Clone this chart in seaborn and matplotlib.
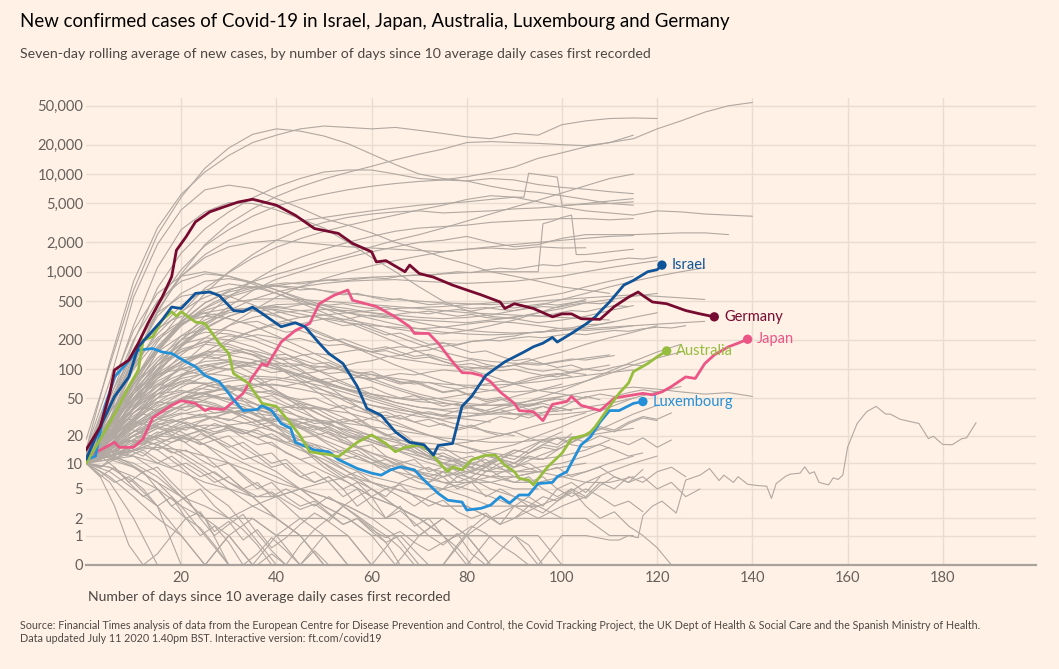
import matplotlib
matplotlib.use("Agg")
import matplotlib.pyplot as plt
import numpy as np
import pandas as pd
import seaborn as sns
from matplotlib.ticker import NullLocator

# ---- data ----
# grey countries: seven-day average sampled every 5 days from day 0
grey_step = 5
grey_lines = [
    [14, 120, 800, 2800, 6200, 10500, 15500, 21000, 25000, 29000, 31000, 30000, 29000, 30000, 28000, 26000, 24000, 23000, 26000, 25000, 32000, 35000, 37000, 37500, 37000],
    [11, 35, 140, 480, 1050, 1850, 2700, 3700, 4700, 5500, 6200, 6900, 7500, 8000, 8400, 8700, 9400, 10400, 11800, 14500, 16500, 19000, 21000, 23000, 29000, 35000, 43000, 50000, 54000],
    [18, 110, 650, 2400, 5800, 11500, 18500, 25500, 29000, 27500, 24500, 20500, 16000, 12500, 10000, 9000, 8500, 9000, 8700, 7800, 7300, 7000, 6600, 6300],
    [10, 28, 110, 380, 950, 1900, 3100, 4400, 5900, 7400, 8900, 10400, 12000, 14000, 16000, 18000, 21000, 21500, 21000, 20600, 20000, 19500, 21000, 25000],
    [14, 75, 550, 1900, 4300, 6900, 7700, 7100, 5600, 4500, 3500, 3000, 2500, 2000, 1700, 1400, 1200, 1000, 900, 800, 700, 650, 600],
    [12, 55, 280, 1100, 2700, 4100, 5100, 5000, 4300, 3500, 2800, 2000, 1400, 1000, 700, 500, 400, 350, 330, 300, 320, 350, 400, 450],
    [10, 38, 190, 680, 1550, 2750, 4100, 5700, 7400, 9000, 10500, 11000, 11000, 10000, 9000, 8700, 8500, 7500, 6800, 6500, 6000, 5500, 5000, 4800],
    [10, 24, 75, 190, 380, 680, 980, 1380, 1780, 2180, 2580, 2980, 3380, 3800, 4300, 4800, 5500, 6000, 5800, 5200, 4600, 4200, 4000, 3800, 4200, 4100, 3900, 3800, 3700],
    [10, 19, 48, 95, 175, 290, 440, 640, 840, 1000, 1200, 1400, 1600, 1800, 2000, 2100, 2300, 2000, 1800, 1900, 2200, 2400, 2400, 2400, 2450, 2500, 2500, 2400],
    [10, 28, 75, 170, 310, 480, 640, 790, 940, 1100, 1300, 1500, 1800, 2100, 2400, 2800, 3300, 3900, 4600, 5400, 6400, 7600, 9000, 10000],
    [10, 22, 60, 150, 320, 600, 1000, 1500, 2100, 2700, 3200, 3600, 3900, 4100, 4200, 4000, 4100, 4200, 4400, 4500, 4700, 5000, 5300, 5600],
    [10, 20, 45, 100, 200, 350, 550, 800, 1100, 1400, 1700, 2000, 2300, 2600, 2800, 2900, 3000, 3200, 3300, 3400, 3500, 3500, 3400, 3500],
    [10, 16, 30, 60, 110, 180, 280, 400, 550, 700, 850, 1000, 1150, 1300, 1450, 1600, 1700, 1800, 1900, 2000, 2100, 2200, 2300, 2350],
    [12, 40, 150, 450, 900, 1400, 1800, 2000, 2100, 2000, 1900, 1800, 1750, 1700, 1650, 1600, 1700, 1750, 1700, 1800, 1750, 1760],
    [10, 30, 100, 250, 450, 650, 750, 700, 600, 500, 420, 380, 350, 330, 320, 310, 300, 320, 340, 380, 420, 480, 520, 560, 600],
    [11, 25, 70, 160, 300, 480, 620, 700, 720, 690, 640, 600, 560, 520, 500, 480, 470, 460, 480, 500, 520, 540, 560, 580, 560, 540, 520],
    [10, 18, 40, 90, 170, 280, 400, 520, 620, 700, 760, 800, 820, 830, 800, 780, 760, 780, 800, 850, 900, 1000, 1100, 1200, 1300],
    [13, 60, 250, 600, 900, 1000, 900, 750, 600, 480, 380, 300, 240, 190, 150, 120, 100, 85, 70, 60, 55, 50],
    [10, 35, 130, 350, 600, 800, 850, 780, 650, 520, 420, 340, 270, 220, 180, 150, 130, 120, 115, 110, 120, 130, 140],
    [10, 20, 50, 110, 200, 300, 380, 420, 430, 400, 360, 320, 290, 260, 240, 230, 250, 280, 320, 380, 450, 520],
    [10, 15, 28, 50, 85, 130, 190, 250, 300, 340, 360, 380, 400, 420, 430, 440, 460, 480, 500, 550, 600, 700, 800, 900],
    [12, 45, 160, 380, 560, 620, 560, 460, 360, 280, 220, 180, 150, 130, 120, 110, 105, 100, 110, 130, 150, 180, 210, 240, 280],
    [10, 22, 55, 120, 220, 320, 400, 430, 410, 370, 330, 300, 280, 270, 260, 270, 290, 310, 300, 280, 260, 250, 260, 280],
    [11, 28, 75, 170, 290, 380, 420, 400, 350, 290, 230, 180, 140, 110, 90, 75, 65, 60, 58, 60, 65, 75, 90, 110, 130, 150],
    [10, 24, 70, 160, 280, 400, 480, 520, 530, 520, 500, 480, 460, 440, 420, 400, 380, 370, 360, 350, 340, 330, 320],
    [10, 18, 40, 80, 140, 210, 280, 340, 380, 400, 410, 400, 380, 360, 340, 330, 340, 360, 400, 450, 520, 600, 700, 800, 900, 1000, 1100],
    [12, 50, 200, 500, 800, 950, 900, 780, 650, 540, 450, 380, 330, 290, 260, 240, 230, 225, 230, 240, 250, 260, 270, 280, 290, 300, 310],
    [10, 20, 45, 95, 170, 260, 350, 420, 460, 470, 450, 420, 380, 340, 300, 270, 250, 240, 235, 240, 250, 270, 300, 340, 380],
    [10, 20, 45, 80, 120, 150, 160, 140, 110, 80, 60, 45, 35, 28, 22, 18, 15, 13, 12, 11, 12, 14, 18],
    [10, 16, 30, 55, 85, 110, 120, 115, 100, 85, 70, 60, 55, 50, 48, 50, 55, 60, 70, 80, 90, 100, 110],
    [12, 25, 50, 90, 130, 140, 120, 90, 60, 40, 26, 18, 12, 8, 6, 5, 4, 3, 3, 2, 2],
    [10, 14, 22, 35, 50, 65, 75, 80, 78, 70, 60, 50, 42, 36, 32, 30, 32, 36, 42, 50, 60, 75, 95, 120, 150, 180],
    [10, 18, 35, 60, 80, 90, 85, 70, 55, 42, 32, 25, 20, 17, 15, 14, 13, 14, 16, 20, 25, 32, 40, 50],
    [11, 22, 40, 55, 60, 55, 45, 35, 25, 18, 12, 8, 5, 3, 2, 1, 1, 0, 0],
    [10, 13, 20, 30, 42, 55, 65, 70, 68, 62, 55, 48, 42, 38, 35, 33, 32, 34, 38, 45, 52, 58, 62, 65, 62, 58, 55, 57, 52],
    [10, 15, 25, 38, 48, 52, 50, 44, 38, 32, 27, 23, 20, 18, 17, 16, 17, 19, 22, 26, 30, 35],
    [12, 30, 60, 90, 100, 85, 60, 40, 25, 15, 9, 6, 4, 3, 2, 1, 0],
    [10, 12, 15, 20, 25, 30, 35, 38, 40, 40, 38, 35, 30, 26, 22, 18, 15, 12, 10, 8, 7, 6, 6, 7],
    [10, 20, 38, 60, 75, 70, 58, 45, 34, 25, 18, 14, 11, 9, 8, 7, 8, 10, 13, 17, 22],
    [11, 25, 55, 100, 150, 180, 170, 140, 105, 75, 52, 36, 25, 18, 13, 10, 8, 7, 6, 6, 7, 8, 10, 12],
    [10, 14, 20, 28, 34, 38, 40, 38, 34, 28, 22, 17, 13, 10, 8, 6, 5, 4, 3, 3, 2, 2, 1, 1],
    [10, 18, 30, 42, 48, 45, 38, 30, 22, 16, 12, 9, 7, 6, 5, 5, 6, 7, 9, 12, 15, 20, 26, 34, 42],
    [10, 25, 60, 110, 160, 190, 180, 150, 120, 95, 75, 60, 50, 42, 36, 32, 30, 28],
    [10, 18, 35, 55, 70, 72, 65, 55, 45, 36, 28, 22, 18, 15, 13, 11, 10],
    [11, 30, 70, 130, 200, 240, 230, 200, 160, 120, 90, 70, 55, 45, 40, 38, 40, 45, 52, 60, 70],
    [10, 15, 24, 36, 48, 58, 62, 60, 54, 46, 38, 30, 24, 19, 15, 12, 10, 9, 8, 8, 9, 10],
    [10, 22, 45, 75, 100, 110, 100, 80, 60, 44, 32, 24, 18, 14, 11, 9, 8, 7, 7, 8],
    [12, 35, 80, 150, 220, 260, 250, 220, 180, 145, 115, 92, 75, 62, 52, 45, 40, 36, 34, 33, 34, 36, 40],
    [10, 13, 18, 24, 30, 34, 36, 35, 32, 28, 24, 20, 17, 14, 12, 10, 9, 8, 8, 9, 10, 12, 15],
    [10, 20, 40, 70, 100, 120, 125, 115, 100, 85, 72, 62, 55, 50, 46, 44, 42, 42, 44, 48, 52],
    [11, 16, 26, 40, 55, 70, 80, 85, 82, 75, 66, 56, 47, 40, 34, 29, 25, 22, 20],
    [10, 28, 65, 120, 180, 210, 200, 170, 135, 100, 70, 48, 33, 22, 15, 10, 7, 5, 4, 3],
    [10, 12, 14, 17, 20, 23, 26, 28, 30, 30, 29, 27, 25, 23, 21, 19, 18, 17, 17, 18, 19, 20, 22, 24],
    [10, 20, 35, 50, 58, 55, 48, 40, 32, 25, 20, 16, 13, 11, 9, 8, 7, 6, 5, 5],
    [12, 40, 100, 200, 300, 350, 330, 280, 220, 170, 130, 100, 80, 65, 55, 48, 44, 42, 42, 44],
    [10, 14, 20, 26, 30, 32, 30, 26, 22, 18, 15, 12, 10, 8, 7, 6, 6, 6, 7, 8],
    [10, 16, 28, 45, 65, 85, 100, 110, 115, 112, 105, 96, 88, 80, 74, 70, 68, 68, 70, 74, 80, 86, 92, 98],
    [11, 24, 50, 85, 120, 140, 140, 125, 105, 88, 74, 62, 52, 45, 40, 37, 35, 34, 34, 35, 37, 40, 44, 50, 58, 66],
    [10, 8, 5, 3, 0, 0, 1, 2, 1, 0],
    [10, 6, 2, 0, 0, 0, 1, 0],
    [11, 14, 12, 8, 4, 2, 1, 0, 0],
    [10, 15, 18, 16, 12, 8, 5, 3, 2, 1, 0, 0],
    [10, 13, 20, 25, 22, 16, 10, 6, 4, 2, 1, 1, 0, 0, 1, 2],
    [10, 16, 25, 30, 28, 22, 16, 11, 8, 5, 3, 2, 1, 1, 0, 0, 0, 1, 1],
    [12, 20, 28, 25, 18, 12, 7, 4, 2, 1, 0],
    [10, 12, 14, 15, 14, 12, 10, 8, 6, 5, 4, 3, 2, 2, 1, 1, 1, 0],
    [10, 9, 7, 5, 3, 2, 2, 3, 4, 5, 4, 3, 2, 1],
    [10, 14, 22, 30, 35, 32, 26, 20, 15, 11, 8, 6, 4, 3, 2, 2, 1, 1, 1, 1, 0],
    [10, 12, 16, 20, 24, 26, 25, 22, 18, 14, 11, 8, 6, 5, 4, 3, 3, 2, 2, 2, 3, 4],
    [11, 18, 26, 34, 40, 42, 38, 30, 22, 15, 10, 7, 5, 3, 2, 1, 1, 1],
    [10, 11, 12, 10, 8, 6, 5, 4, 4, 5, 6, 7, 6, 5, 4, 3, 3, 2, 2, 3, 4, 6, 8, 10, 12],
    [10, 7, 4, 2, 1, 0, 0],
    [10, 12, 10, 7, 4, 2, 0, 0, 0],
    [10, 15, 20, 18, 13, 9, 6, 4, 2, 1, 1, 0, 0, 0],
    [11, 16, 18, 14, 9, 5, 3, 1, 0, 0, 1, 1, 0],
    [10, 13, 17, 20, 19, 16, 12, 9, 7, 5, 3, 2, 1, 0, 0, 0, 1, 2, 3, 3],
    [10, 9, 6, 3, 1, 0],
    [10, 11, 9, 6, 3, 1, 0, 0, 1, 2, 2, 1],
]

# grey countries sampled every 3 days (the jagged low and middle band)
grey_step_b = 3
grey_lines_b = [
    [10, 7, 3, 0.6, 0, 0.3, 1, 2, 1.4, 0.6, 0, 0, 0.3, 0.9, 0.4, 0],
    [10, 12, 9, 6, 8, 5, 3, 4, 2, 1, 1.6, 2.3, 1.1, 0.4, 0, 0.6, 1.3, 2, 3, 2.1, 1.4, 0.7, 0],
    [11, 15, 19, 24, 21, 26, 30, 27, 22, 18, 20, 15, 12, 13, 9, 7, 8, 6, 4, 5, 3, 2, 2.6, 1.7, 1, 0.6, 1.1, 0.3, 0],
    [10, 13, 17, 15, 20, 24, 22, 19, 16, 18, 14, 11, 12, 9, 10, 7, 6, 7, 5, 6, 4, 5, 4, 3, 4, 5, 7, 6, 8, 10, 9, 12],
    [12, 18, 25, 33, 40, 37, 45, 52, 48, 44, 38, 41, 33, 28, 30, 24, 20, 22, 17, 15, 16, 12, 10, 11, 8, 9, 7, 8, 10, 12, 11, 14, 18, 16, 21],
    [10, 14, 21, 28, 36, 44, 51, 58, 63, 60, 66, 62, 57, 60, 52, 48, 50, 43, 39, 41, 35, 31, 33, 28, 25, 27, 23, 25, 28, 32, 30, 36, 41, 38, 45, 52, 48],
    [10, 9, 11, 14, 12, 16, 19, 17, 21, 18, 15, 17, 13, 10, 11, 8, 6, 7, 5, 3, 4, 2, 3, 1.5, 2, 1, 0.5, 0, 0, 0.4, 1, 0.6, 0],
    [10, 16, 24, 35, 48, 60, 75, 88, 95, 104, 98, 110, 102, 92, 96, 84, 76, 80, 70, 62, 65, 56, 50, 53, 46, 41, 44, 39, 35, 38, 34, 31, 35, 40, 37],
    [11, 20, 31, 45, 57, 70, 66, 78, 72, 64, 68, 58, 50, 53, 44, 38, 40, 33, 28, 30, 24, 20, 22, 17, 14, 15, 12, 10, 11, 9, 10, 12, 11, 14],
    [10, 13, 12, 15, 18, 16, 13, 14, 11, 9, 10, 7, 5, 6, 4, 3, 3.5, 2.4, 1.6, 2, 1.2, 0.7, 1, 0.4, 0, 0, 0.6, 1.4, 2.2, 1.6, 3, 4, 3, 5, 6, 4.5, 7],
    [10, 17, 26, 38, 52, 66, 80, 92, 101, 110, 118, 112, 121, 115, 106, 110, 98, 90, 93, 84, 78, 82, 74, 70, 73, 66, 62, 65, 70, 75, 72, 80, 86, 83, 92, 100, 96, 105, 112, 108],
    [10, 11, 13, 12, 14, 11, 9, 10, 8, 6, 7, 5, 4, 4.6, 3.5, 2.7, 3.2, 2.3, 1.6, 2, 1.3, 0.9, 1.2, 0.7, 0.4, 0.7, 1, 1.5, 1.1, 0.6, 0.3, 0],
    [12, 22, 35, 50, 68, 86, 105, 124, 140, 152, 147, 160, 151, 138, 142, 126, 113, 117, 101, 90, 94, 82, 72, 75, 66, 58, 61, 53, 48, 51, 45, 41, 44, 40, 37],
    [10, 15, 20, 27, 34, 31, 38, 44, 40, 35, 37, 31, 26, 28, 23, 19, 20, 16, 13, 14, 11, 9, 10, 8, 7, 8, 6, 7, 9, 11, 10, 13, 15, 14, 17, 20, 24, 22, 27, 31, 29],
    [10, 8, 6, 7, 5, 3, 4, 2, 1, 1.5, 0.7, 0, 0, 0.3, 0, 0],
    [11, 14, 13, 17, 21, 19, 24, 28, 25, 22, 24, 19, 16, 17, 13, 11, 12, 9, 7, 8, 6, 5, 5.6, 4, 3, 3.6, 2.5, 2, 2.4, 1.6, 2, 3, 2.4, 3.5, 4.5, 3.8, 5.5, 7, 6, 8.5],
    [10, 19, 30, 44, 61, 80, 100, 118, 134, 128, 142, 150, 138, 127, 131, 116, 104, 108, 95, 85, 88, 78, 70, 73, 64, 57, 60, 52, 46, 49, 43, 38, 41, 36],
    [10, 12, 15, 19, 23, 27, 25, 30, 34, 31, 36, 33, 29, 31, 27, 24, 25, 22, 19, 20, 17, 15, 16, 13, 11, 12, 10, 8, 9, 7, 6, 7, 5, 4, 5, 3, 2, 2.5, 1.5, 1, 0.5, 0],
    [10, 7, 9, 6, 4, 5, 3, 2, 2.5, 1.2, 1.8, 0.8, 1.3, 0.5, 0.9, 1.6, 2.4, 1.8, 3, 2.2, 1.5, 1, 0.5, 0],
    [11, 16, 23, 30, 38, 46, 43, 51, 57, 53, 48, 50, 42, 36, 38, 31, 27, 28, 22, 19, 20, 16, 14, 15, 12, 10, 11, 9, 8, 9, 7, 6, 7, 5, 4, 5, 4, 3, 3.5, 2.5],
    [10, 14, 19, 25, 31, 37, 44, 50, 55, 60, 64, 61, 66, 70, 67, 72, 76, 73, 78, 82, 79, 85, 90, 87, 93, 98, 95, 101, 107, 104, 110, 116, 113, 120, 127, 124, 131, 138],
    [12, 25, 42, 62, 85, 110, 135, 160, 185, 205, 220, 212, 226, 215, 200, 207, 188, 175, 180, 162, 150, 155, 140, 128, 133, 120, 110, 114, 104, 96, 100, 92, 86, 90, 84],
    [10, 13, 16, 21, 24, 30, 34, 41, 46, 53, 57, 65, 69, 77, 81, 89, 93, 101, 107, 117, 122, 134, 138, 152, 157, 172, 177, 193, 197, 213, 219, 237, 242, 261, 266, 286, 290, 310],
    [10, 12, 11, 13, 15, 14, 17, 19, 18, 21, 23, 21, 24, 26, 24, 27, 29, 27, 30, 28, 31, 33, 30, 34, 36, 33, 37, 40, 37, 41, 44, 41, 46, 49, 46, 51, 55, 52, 57, 61, 58],
    [10, 9, 12, 10, 8, 9, 6, 4, 5, 3, 2, 1.3, 0.6, 0, 0, 0, 0.4, 0],
    [10, 18, 30, 48, 75, 110, 150, 200, 250, 300, 350, 390, 420, 445, 430, 460, 480, 455, 470, 440, 420, 435, 400, 380, 395, 370, 350, 365, 340, 330, 345, 360, 350, 375, 400, 390, 420, 450, 440],
    [11, 25, 50, 90, 150, 230, 320, 420, 520, 600, 660, 700, 680, 720, 690, 650, 670, 620, 580, 600, 550, 510, 530, 490, 460, 470, 440, 420, 430, 410, 400, 420, 440, 430, 460, 480, 470, 500],
    [10, 20, 38, 65, 105, 160, 230, 310, 400, 490, 570, 640, 700, 740, 770, 750, 790, 820, 800, 840, 870, 850, 900, 930, 910, 960, 1000, 980, 1040, 1090, 1060, 1120, 1180, 1150, 1220, 1280, 1250, 1320, 1380, 1350, 1420],
    [12, 30, 65, 120, 190, 260, 320, 360, 340, 370, 330, 300, 310, 270, 240, 250, 220, 195, 205, 180, 160, 170, 150, 135, 142, 128, 118, 125, 112, 105, 110, 100, 95, 100, 92, 88],
    [10, 14, 20, 28, 38, 50, 62, 75, 88, 100, 112, 108, 120, 130, 125, 138, 145, 140, 150, 158, 152, 162, 170, 165, 176, 185, 180, 192, 200, 195, 208, 216, 210, 222, 232, 226, 240, 250, 245, 260, 270, 265, 280],
    [10, 12, 16, 14, 18, 22, 20, 25, 23, 27, 24, 21, 23, 19, 17, 18, 15, 13, 14, 12, 10, 11, 9, 8, 9, 7, 8, 10, 9, 12, 14, 13, 16, 19, 17, 21, 25, 23, 28, 32, 30, 35],
    [10, 13, 11, 15, 13, 10, 12, 9, 7, 8, 6, 5, 6, 4, 5, 4, 3, 4, 3, 4, 5, 4, 6, 7, 6, 8, 10, 9, 12, 11, 14, 13, 16, 15, 19, 17, 20, 18, 16, 19, 15, 18],
    [10, 16, 22, 30, 27, 35, 40, 37, 43, 39, 35, 38, 32, 29, 31, 26, 23, 25, 21, 18, 20, 16, 14, 15, 12, 13, 11, 12, 10, 11, 9, 10, 8, 9, 7, 8, 9, 7, 6, 7, 5, 6, 4, 5],
    [10, 11, 14, 18, 16, 21, 25, 23, 28, 32, 29, 34, 38, 35, 40, 44, 41, 38, 42, 37, 34, 36, 31, 28, 30, 26, 24, 26, 22, 20, 22, 19, 17, 19, 16, 15, 16, 14, 12, 13],
    [12, 28, 55, 95, 150, 210, 270, 330, 380, 360, 400, 420, 390, 410, 370, 340, 355, 310, 280, 290, 255, 225, 235, 205, 180, 188, 165, 148, 154, 136, 122, 128, 114, 104, 110, 98],
    [10, 15, 23, 34, 48, 66, 88, 112, 140, 170, 200, 230, 255, 280, 300, 290, 315, 335, 320, 345, 360, 345, 370, 385, 370, 395, 410, 395, 420, 440, 425, 450, 470, 455, 480, 500],
    [10, 12, 14, 13, 16, 19, 17, 20, 23, 21, 25, 22, 19, 21, 17, 15, 16, 13, 11, 12, 10, 8, 9, 7, 6, 7, 5, 6, 4, 5, 4, 3, 4, 3.5, 5, 4, 6, 5, 7, 6, 8, 9, 7],
]

# grey countries with their own day grid (jumps in the data)
jump_a_days = [0, 5, 10, 15, 20, 25, 30, 35, 40, 45, 50, 55, 60, 65, 70, 75, 80, 85, 90, 92, 93, 99, 100, 105, 110, 115]
jump_a_cases = [10, 30, 120, 400, 900, 1500, 2100, 2600, 3000, 3300, 3600, 3900, 4200, 4500, 4800, 5000, 5200, 5500, 5800, 5800, 10200, 9300, 4800, 4900, 5000, 5200]
jump_b_days = [0, 5, 10, 15, 20, 25, 30, 35, 40, 45, 50, 55, 60, 65, 70, 75, 80, 85, 90, 95, 96, 98, 100, 102, 103, 105, 110, 115]
jump_b_cases = [10, 20, 60, 150, 280, 420, 550, 650, 720, 780, 820, 850, 880, 900, 920, 950, 980, 1000, 1000, 1000, 3100, 3300, 3600, 3800, 1500, 1500, 1600, 1700]
long_days = [0, 5, 10, 15, 20, 25, 30, 35, 40, 45, 50, 55, 60, 65, 70, 75, 80, 85, 90, 95, 100, 105, 110,
             112, 114, 116, 117, 119, 121, 124, 126, 129, 131, 133, 134, 136, 137, 139, 141, 143, 144, 145,
             147, 148, 150, 151, 152, 153, 154, 156, 157, 158, 159, 160, 162, 164, 166, 168, 169, 171, 175,
             177, 178, 180, 182, 184, 185, 187]
long_cases = [10, 12, 9, 6, 4, 3, 2, 2, 1, 1, 1, 0, 0, 1, 1, 2, 1, 1, 1, 0, 1, 1, 0.8,
              0.8, 1, 0.9, 2.2, 3, 3.5, 2.4, 6.4, 7.3, 8.7, 6.3, 7.3, 6, 7, 5.7, 5.5, 5.4, 3.8, 5.8,
              7.1, 7.5, 7.7, 9.1, 7.6, 8, 6, 5.6, 6.8, 6.5, 7.3, 15, 27, 36, 41, 34, 34, 30, 27,
              18.6, 19.8, 16.1, 16, 18.6, 19, 27.6]

israel_days = [0, 3, 6, 9, 11, 16, 18, 20, 23, 26, 28, 31, 33, 35, 38, 41, 44, 46, 49, 51, 54, 57, 59, 62, 65, 68,
               71, 73, 74, 77, 79, 81, 84, 88, 92, 94, 96, 98, 99, 102, 105, 107, 108, 110, 113, 115, 118, 120, 121]
israel_cases = [11, 25, 52, 83, 170, 320, 435, 420, 600, 620, 570, 400, 390, 435, 345, 273, 300, 273, 185, 145, 114,
                66, 39, 33, 22, 17, 16, 12.3, 15.7, 16.5, 41, 52, 86, 119, 150, 170, 185, 212, 190, 233, 290, 345,
                390, 490, 730, 815, 1000, 1050, 1170]

germany_days = [0, 3, 5, 6, 9, 11, 13, 16, 18, 19, 21, 23, 26, 30, 32, 35, 40, 44, 48, 53, 56, 60, 61, 63, 67, 68,
                70, 73, 77, 80, 83, 87, 88, 90, 94, 98, 100, 102, 104, 108, 111, 114, 116, 117, 119, 122, 126, 129, 132]
germany_cases = [14, 25, 56, 98, 124, 185, 295, 550, 890, 1660, 2270, 3240, 4100, 4800, 5170, 5520, 4800, 3780,
                 2770, 2470, 1950, 1600, 1260, 1300, 1000, 1170, 960, 880, 730, 650, 580, 490, 420, 470, 420, 345,
                 370, 370, 330, 325, 440, 550, 620, 570, 490, 470, 400, 370, 345]

australia_days = [0, 2, 6, 9, 11, 12, 14, 16, 18, 19, 20, 23, 25, 28, 30, 31, 34, 37, 40, 43, 45, 47, 49, 51, 53,
                  57, 60, 63, 65, 67, 70, 72, 74, 76, 77, 79, 81, 84, 86, 88, 90, 91, 93, 94, 97, 100, 102, 105,
                  106, 107, 110, 112, 114, 115, 118, 120, 122]
australia_cases = [10, 15, 34, 66, 98, 200, 215, 320, 390, 350, 390, 305, 295, 185, 145, 90, 72, 44, 41, 27, 20,
                   13.4, 12.9, 12.5, 11.8, 17, 20.4, 16.5, 13.4, 15, 15.9, 14, 10.4, 8, 9.1, 8.4, 10.9, 12.3, 12.3,
                   9.5, 8, 6.7, 6.4, 5.6, 9.1, 12.9, 18.6, 20.4, 22, 25, 41, 56, 72, 94, 114, 134, 154]

japan_days = [0, 3, 6, 7, 10, 12, 14, 18, 20, 23, 25, 26, 29, 31, 33, 35, 37, 38, 41, 44, 47, 49, 52, 55, 56, 61,
              65, 68, 69, 72, 74, 77, 79, 81, 83, 85, 87, 90, 91, 94, 96, 98, 101, 102, 104, 108, 111, 115, 117,
              119, 121, 123, 126, 128, 130, 132, 135, 137, 139]
japan_cases = [11.8, 14, 17, 15, 15, 18.6, 31, 42, 47, 44, 37, 39, 38, 46, 56, 83, 114, 108, 190, 250, 295, 470,
               570, 650, 510, 440, 345, 273, 233, 233, 185, 119, 92, 91, 86, 74, 58, 44, 37, 36, 29, 43, 46, 52,
               42, 37, 50, 54, 56, 54, 58, 66, 83, 80, 114, 140, 170, 185, 203]

luxembourg_days = [0, 2, 4, 6, 11, 14, 16, 18, 21, 23, 25, 28, 30, 31, 33, 36, 37, 39, 41, 43, 44, 48, 51, 53, 57,
                   60, 62, 64, 66, 69, 71, 74, 76, 79, 80, 83, 85, 87, 89, 91, 93, 95, 98, 99, 101, 104, 106, 108,
                   110, 112, 115, 117]
luxembourg_cases = [11, 12, 41, 83, 157, 163, 150, 145, 119, 106, 86, 74, 56, 48, 37, 38, 42, 37, 27, 24, 17, 14,
                    13.4, 11, 8.7, 7.7, 7.3, 8.4, 9.1, 8.4, 6.4, 4.4, 3.6, 3.4, 2.65, 2.8, 3.1, 4, 3.3, 4.2, 4.2,
                    5.8, 6, 7, 8, 15.9, 19.5, 28, 37, 37, 44, 46]

y_ticks = [0, 1, 2, 5, 10, 20, 50, 100, 200, 500, 1000, 2000, 5000, 10000, 20000, 50000]
x_ticks = [20, 40, 60, 80, 100, 120, 140, 160, 180]

# ---- build grey table ----
rows = []
for i, vals in enumerate(grey_lines):
    for j, v in enumerate(vals):
        rows.append((f"a{i}", j * grey_step, v))
for i, vals in enumerate(grey_lines_b):
    for j, v in enumerate(vals):
        rows.append((f"b{i}", j * grey_step_b, v))
for name, ds, vs in [("ja", jump_a_days, jump_a_cases), ("jb", jump_b_days, jump_b_cases),
                     ("long", long_days, long_cases)]:
    for d, v in zip(ds, vs):
        rows.append((name, d, v))
grey = pd.DataFrame(rows, columns=["country", "day", "cases"])

highlight = [
    ("Japan", japan_days, japan_cases, "#ec5686"),
    ("Luxembourg", luxembourg_days, luxembourg_cases, "#2490d8"),
    ("Australia", australia_days, australia_cases, "#96bd3e"),
    ("Israel", israel_days, israel_cases, "#0f5499"),
    ("Germany", germany_days, germany_cases, "#770a30"),
]

# ---- figure ----
sns.set_theme(style="white")
plt.rcParams["font.family"] = ["Lato", "DejaVu Sans"]

bg = "#fff1e5"
fig = plt.figure(figsize=(10.59, 6.69), dpi=100, facecolor=bg)
ax = fig.add_axes([0.0812, 0.1555, 0.8967, 0.698])
ax.set_facecolor(bg)

def fwd(v):
    return np.log10(1 + np.clip(v, 0, None))

def inv(y):
    return 10 ** y - 1

ax.set_yscale("function", functions=(fwd, inv))

sns.lineplot(data=grey, x="day", y="cases", units="country", estimator=None,
             color="#b1a8a1", lw=0.8, ax=ax, legend=False, sort=False)

for name, ds, vs, col in highlight:
    sns.lineplot(x=ds, y=vs, color=col, lw=2.0, ax=ax, legend=False, sort=False)
    ax.scatter([ds[-1]], [vs[-1]], s=45, color=col, zorder=5, edgecolor="none")
    ax.annotate(name, (ds[-1], vs[-1]), xytext=(7, 0), textcoords="offset points",
                va="center", ha="left", color=col, fontsize=10.5)

ax.set_xlim(0, 199.5)
ax.set_ylim(0, 60000)
ax.set_yticks(y_ticks)
ax.set_yticklabels([f"{t:,}" for t in y_ticks])
ax.yaxis.set_minor_locator(NullLocator())
ax.set_xticks(x_ticks)
ax.set_xticklabels([str(t) for t in x_ticks])
ax.tick_params(axis="both", length=0, labelsize=10.5, labelcolor="#66605c")
ax.tick_params(axis="y", pad=2)
ax.tick_params(axis="x", pad=4)
ax.grid(True, color="#e9dcd0", lw=1)
ax.set_axisbelow(True)
for s in ["top", "right", "left"]:
    ax.spines[s].set_visible(False)
ax.spines["bottom"].set_color("#a9a19b")
ax.spines["bottom"].set_linewidth(1.6)
ax.set_xlabel("")
ax.set_ylabel("")

fig.text(88 / 1059, 1 - 597 / 669, "Number of days since 10 average daily cases first recorded",
         ha="left", va="center", fontsize=10.1, color="#4d4845")
fig.text(20 / 1059, 1 - 22 / 669,
         "New confirmed cases of Covid-19 in Israel, Japan, Australia, Luxembourg and Germany",
         ha="left", va="center", fontsize=13.4, color="#000000")
fig.text(20 / 1059, 1 - 54 / 669,
         "Seven-day rolling average of new cases, by number of days since 10 average daily cases first recorded",
         ha="left", va="center", fontsize=10.2, color="#4d4845")
fig.text(20 / 1059, 1 - 632 / 669,
         "Source: Financial Times analysis of data from the European Centre for Disease Prevention and Control, "
         "the Covid Tracking Project, the UK Dept of Health & Social Care and the Spanish Ministry of Health.\n"
         "Data updated July 11 2020 1.40pm BST. Interactive version: ft.com/covid19",
         ha="left", va="center", fontsize=7.72, color="#4d4845", linespacing=1.2)

fig.savefig("out.png", dpi=100, facecolor=bg)
